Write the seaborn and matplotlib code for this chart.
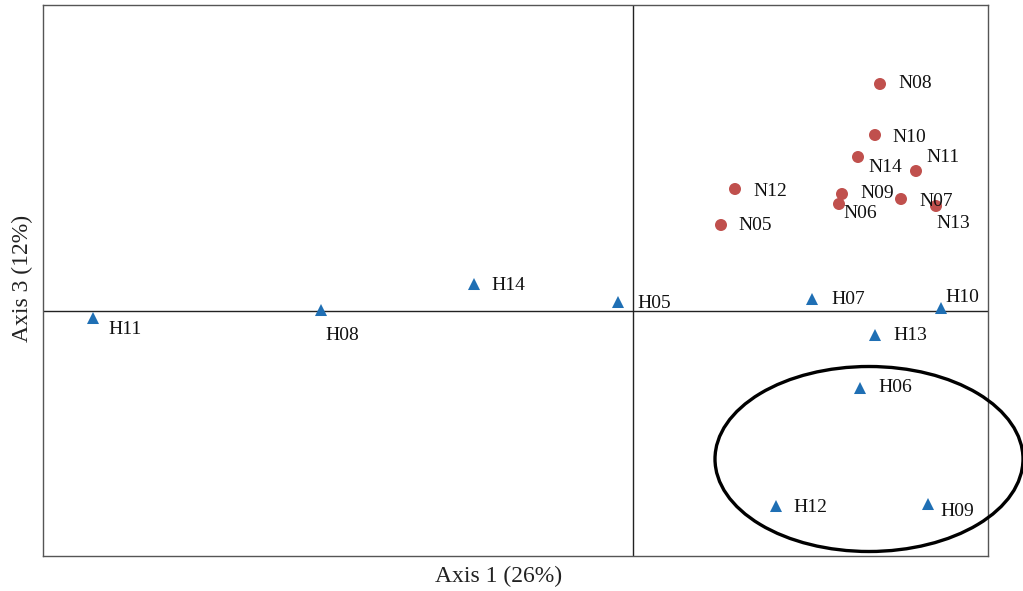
import matplotlib
matplotlib.use("Agg")
import matplotlib.pyplot as plt
from matplotlib.patches import Ellipse
import seaborn as sns
import pandas as pd

names = ["N08", "N10", "N14", "N11", "N12", "N09", "N06", "N07", "N13", "N05",
         "H11", "H08", "H14", "H05", "H07", "H10", "H13", "H06", "H12", "H09"]
axis1 = [0.247, 0.242, 0.225, 0.283, 0.102, 0.209, 0.206, 0.268, 0.303, 0.088,
         -0.540, -0.312, -0.159, -0.015, 0.179, 0.308, 0.242, 0.227, 0.143, 0.295]
axis3 = [0.227, 0.176, 0.154, 0.140, 0.122, 0.117, 0.107, 0.112, 0.105, 0.086,
         -0.007, 0.001, 0.027, 0.009, 0.012, 0.003, -0.024, -0.077, -0.195, -0.193]
groups = ["N"] * 10 + ["H"] * 10
# label offsets in pixels (dx, dy)
label_dx = [18, 17, 10, 10, 18, 18, 4, 18, 0, 17, 15, 4, 17, 19, 19, 4, 18, 18, 17, 12]
label_dy = [0, -2, -11, 14, -3, 0, -10, -3, -17, -1, -12, -25, -1, -1, -1, 11, -1, 0, -1, -8]

df = pd.DataFrame({"name": names, "x": axis1, "y": axis3, "group": groups})

sns.set_theme(style="white")
plt.rcParams["font.family"] = ["Liberation Serif", "DejaVu Serif"]

fig = plt.figure(figsize=(10.23, 5.91), dpi=100)
ax = fig.add_axes([43 / 1023, 35 / 591, 945 / 1023, 551 / 591])

sns.scatterplot(data=df, x="x", y="y", hue="group", style="group",
                palette={"N": "#C0504D", "H": "#1F6FB4"},
                markers={"N": "o", "H": "^"}, s=75, edgecolor="none",
                legend=False, ax=ax, zorder=3)

ax.axhline(0, color="#222222", lw=1.0, zorder=1)
ax.axvline(0, color="#222222", lw=1.0, zorder=1)

for n, x, y, dx, dy in zip(names, axis1, axis3, label_dx, label_dy):
    ax.annotate(n, (x, y), xytext=(dx, dy), textcoords="offset pixels",
                ha="left", va="center", fontsize=14, color="#111111")

ell = Ellipse((0.236, -0.148), 0.308, 0.185, fill=False, lw=2.4,
              edgecolor="black", clip_on=False, zorder=4)
ax.add_patch(ell)

ax.set_xlim(-0.590, 0.355)
ax.set_ylim(-0.245, 0.306)
ax.set_xticks([])
ax.set_yticks([])
for sp in ax.spines.values():
    sp.set_color("#555555")
    sp.set_linewidth(1.0)

ax.set_xlabel("Axis 1 (26%)", fontsize=17, color="#222222")
ax.set_ylabel("Axis 3 (12%)", fontsize=17, color="#222222")
ax.xaxis.set_label_coords((499 - 43) / 945, -0.018)
ax.yaxis.set_label_coords(-0.011, (556 - 278) / 551)

fig.savefig("out.png", dpi=100)
